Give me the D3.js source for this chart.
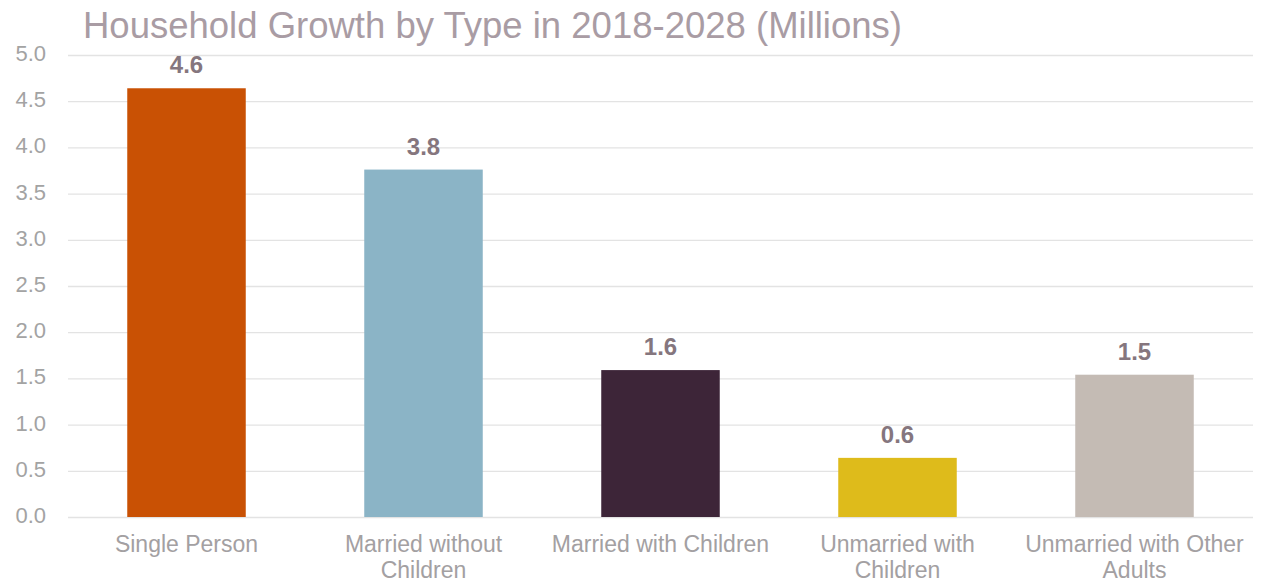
<!DOCTYPE html>
<html>
<head>
<meta charset="utf-8">
<script src="https://cdn.jsdelivr.net/npm/d3@7"></script>
<style>
  body { margin: 0; background: #fff; }
  svg { font-family: "Liberation Sans", Arial, sans-serif; }
  .grid line { stroke: #e3e3e3; stroke-width: 1.3; }
  .grid path { display: none; }
  .y-axis text { fill: #a3a3a3; font-size: 22px; }
  .x-label { fill: #a3a0a2; font-size: 23px; }
  .bar-label { fill: #85767e; font-size: 24px; font-weight: bold; }
  .title { fill: #a99ca4; font-size: 36.5px; }
</style>
</head>
<body>
<div id="chart"></div>
<script>
// Chart data
const categories = [
  "Single Person",
  "Married without Children",
  "Married with Children",
  "Unmarried with Children",
  "Unmarried with Other Adults"
];
const values = [4.64, 3.76, 1.59, 0.64, 1.54];
const barColors = ["#c95104", "#8bb4c6", "#3d2538", "#debb1b", "#c4bbb4"];
const xLabelLines = [
  ["Single Person"],
  ["Married without", "Children"],
  ["Married with Children"],
  ["Unmarried with", "Children"],
  ["Unmarried with Other", "Adults"]
];
const yTicks = [0, 0.5, 1, 1.5, 2, 2.5, 3, 3.5, 4, 4.5, 5];

const width = 1261;
const height = 586;
const margin = { top: 55, right: 8, bottom: 69, left: 68 };

const svg = d3.select("#chart")
  .append("svg")
  .attr("width", width)
  .attr("height", height);

const x = d3.scaleBand()
  .domain(categories)
  .range([margin.left, width - margin.right])
  .paddingInner(0.5)
  .paddingOuter(0.25);

const y = d3.scaleLinear()
  .domain([0, 5])
  .range([height - margin.bottom, margin.top]);

// gridlines + tick labels
svg.append("g")
  .attr("class", "grid y-axis")
  .attr("transform", `translate(${margin.left},0)`)
  .call(d3.axisLeft(y)
    .tickValues(yTicks)
    .tickFormat(d3.format(".1f"))
    .tickSize(-(width - margin.left - margin.right))
    .tickPadding(22))
  .selectAll("text")
  .attr("dy", "0.25em");

// bars
svg.append("g")
  .selectAll("rect")
  .data(values)
  .join("rect")
  .attr("x", (d, i) => x(categories[i]))
  .attr("y", d => y(d))
  .attr("width", x.bandwidth())
  .attr("height", d => y(0) - y(d))
  .attr("fill", (d, i) => barColors[i]);

// value labels
svg.append("g")
  .selectAll("text")
  .data(values)
  .join("text")
  .attr("class", "bar-label")
  .attr("x", (d, i) => x(categories[i]) + x.bandwidth() / 2)
  .attr("y", d => y(d) - 15)
  .attr("text-anchor", "middle")
  .text(d => d3.format(".1f")(d));

// category labels
const xl = svg.append("g")
  .selectAll("text")
  .data(categories)
  .join("text")
  .attr("class", "x-label")
  .attr("x", d => x(d) + x.bandwidth() / 2)
  .attr("y", y(0) + 35)
  .attr("text-anchor", "middle");

xl.selectAll("tspan")
  .data((d, i) => xLabelLines[i])
  .join("tspan")
  .attr("x", function () { return this.parentNode.getAttribute("x"); })
  .attr("dy", (d, i) => i === 0 ? 0 : 26)
  .text(d => d);

// title
svg.append("text")
  .attr("class", "title")
  .attr("x", 83)
  .attr("y", 38)
  .text("Household Growth by Type in 2018-2028 (Millions)");
</script>
</body>
</html>
